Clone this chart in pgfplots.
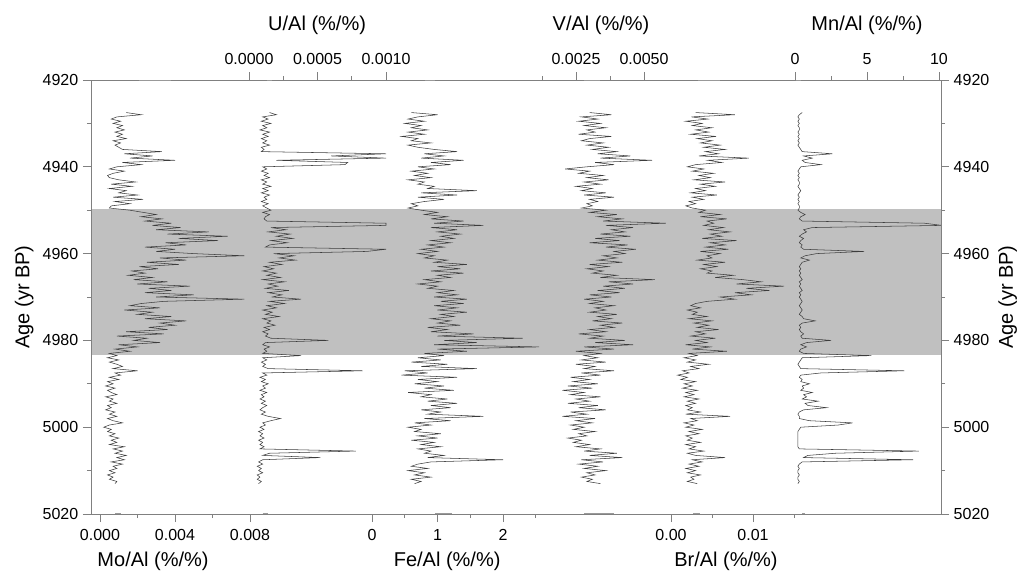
\documentclass[border=0pt]{standalone}
\usepackage{pgfplots}
\pgfplotsset{compat=1.18}
\usepackage{pgfplotstable}
\usepackage{fontspec}
\setmainfont{Liberation Sans}

\definecolor{bandgray}{RGB}{192,192,192}
\definecolor{framegray}{RGB}{128,128,128}
\definecolor{tracegray}{RGB}{60,60,60}

\newcommand\ticksize{\fontsize{12}{14}\selectfont}
\newcommand\labelsize{\fontsize{15}{18}\selectfont}

% element ratios to Al (%/%) against age (yr BP)
\pgfplotstableread{
age    mo      u       fe    v       br      mn
4927.5 1.4e-3  1.5e-4  0.60  3.0e-3  3.0e-3  0.5
4928.0 2.2e-3  2.0e-4  1.00  3.8e-3  7.8e-3  0.3
4928.5 0.9e-3  1.0e-4  0.70  2.7e-3  2.5e-3  0.2
4929.0 0.6e-3  1.4e-4  0.55  3.3e-3  4.5e-3  0.3
4929.5 1.1e-3  0.9e-4  0.80  2.6e-3  1.8e-3  0.2
4930.0 0.7e-3  1.6e-4  0.50  3.4e-3  3.8e-3  0.3
4930.5 1.2e-3  1.0e-4  0.75  2.8e-3  2.6e-3  0.2
4931.0 0.9e-3  1.3e-4  0.60  3.6e-3  5.0e-3  0.3
4931.5 1.3e-3  0.8e-4  0.85  2.9e-3  3.0e-3  0.3
4932.0 0.8e-3  1.5e-4  0.55  3.2e-3  4.6e-3  0.2
4932.5 1.2e-3  1.0e-4  0.80  2.6e-3  2.4e-3  0.3
4933.0 0.9e-3  1.4e-4  0.45  3.8e-3  5.5e-3  0.2
4933.5 1.4e-3  0.9e-4  0.70  3.0e-3  3.2e-3  0.3
4934.0 0.7e-3  1.3e-4  0.60  2.7e-3  5.0e-3  0.2
4934.5 1.1e-3  1.0e-4  0.90  3.5e-3  3.6e-3  0.3
4935.0 0.8e-3  1.5e-4  0.55  2.9e-3  6.0e-3  0.2
4935.5 1.0e-3  0.9e-4  0.70  3.7e-3  4.0e-3  0.3
4936.0 1.2e-3  1.1e-4  0.95  3.1e-3  6.6e-3  0.4
4936.5 3.3e-3  0.9e-4  1.30  4.0e-3  4.2e-3  0.5
4937.0 1.3e-3  10.0e-4 0.80  3.3e-3  5.8e-3  2.6
4937.5 2.8e-3  6.0e-4  1.10  4.5e-3  3.4e-3  0.6
4938.0 1.6e-3  10.0e-4 0.75  3.4e-3  9.5e-3  1.2
4938.5 4.0e-3  2.0e-4  1.40  5.3e-3  4.5e-3  0.5
4939.0 1.2e-3  7.2e-4  0.90  3.2e-3  6.2e-3  0.7
4939.5 2.2e-3  7.0e-4  1.20  3.9e-3  3.0e-3  1.8
4940.0 0.9e-3  1.0e-4  0.70  2.9e-3  2.0e-3  0.4
4940.5 0.5e-3  1.3e-4  0.95  2.1e-3  4.0e-3  0.3
4941.0 1.3e-3  0.9e-4  0.60  3.0e-3  2.6e-3  0.2
4941.5 0.7e-3  1.4e-4  0.85  2.6e-3  5.2e-3  0.3
4942.0 0.4e-3  1.1e-4  0.65  3.5e-3  3.4e-3  0.2
4942.5 0.5e-3  1.5e-4  0.90  2.9e-3  4.8e-3  0.3
4943.0 1.0e-3  0.9e-4  0.55  3.7e-3  2.8e-3  0.2
4943.5 1.9e-3  1.3e-4  0.80  2.8e-3  6.6e-3  0.3
4944.0 0.6e-3  1.0e-4  0.70  3.4e-3  3.6e-3  0.3
4944.5 1.7e-3  1.6e-4  0.95  2.5e-3  5.4e-3  0.2
4945.0 0.5e-3  1.0e-4  0.85  3.1e-3  3.0e-3  0.3
4945.5 1.4e-3  1.4e-4  1.60  2.7e-3  4.2e-3  0.4
4946.0 1.0e-3  0.9e-4  0.75  3.6e-3  2.4e-3  0.3
4946.5 2.0e-3  1.5e-4  1.30  2.8e-3  5.6e-3  0.2
4947.0 0.7e-3  1.1e-4  0.70  3.9e-3  2.6e-3  0.3
4947.5 2.3e-3  1.3e-4  1.10  3.0e-3  4.0e-3  0.2
4948.0 0.8e-3  0.9e-4  0.80  3.3e-3  2.2e-3  0.3
4948.5 1.6e-3  1.4e-4  0.60  2.9e-3  3.0e-3  0.2
4949.0 0.6e-3  1.0e-4  0.70  3.1e-3  1.8e-3  0.3
4949.5 0.5e-3  1.3e-4  0.55  2.7e-3  2.6e-3  0.3
4950.0 1.6e-3  1.6e-4  0.75  3.6e-3  4.2e-3  0.2
4950.5 2.3e-3  1.0e-4  1.00  3.0e-3  3.4e-3  0.4
4951.0 3.0e-3  1.5e-4  0.80  4.0e-3  6.0e-3  0.7
4951.5 2.2e-3  1.2e-4  1.15  3.3e-3  3.6e-3  0.4
4952.0 3.3e-3  1.1e-4  0.90  4.2e-3  6.8e-3  0.3
4952.5 2.4e-3  1.3e-4  1.40  3.5e-3  4.4e-3  0.5
4953.0 3.8e-3  10.0e-4 0.95  5.8e-3  5.2e-3  9.0
4953.5 2.8e-3  10.0e-4 1.70  3.6e-3  4.0e-3  10.2
4954.0 4.3e-3  1.6e-4  0.90  4.6e-3  6.4e-3  1.2
4954.5 3.0e-3  2.7e-4  1.30  3.8e-3  4.6e-3  0.6
4955.0 5.8e-3  1.4e-4  1.00  4.3e-3  7.2e-3  0.8
4955.5 3.6e-3  3.0e-4  1.35  3.4e-3  4.8e-3  0.5
4956.0 6.8e-3  2.0e-4  1.05  4.5e-3  6.2e-3  0.3
4956.5 4.2e-3  3.2e-4  1.25  3.2e-3  3.8e-3  0.6
4957.0 6.3e-3  1.6e-4  0.90  4.1e-3  8.0e-3  0.4
4957.5 3.5e-3  2.8e-4  1.20  3.0e-3  4.8e-3  0.3
4958.0 4.6e-3  1.5e-4  0.85  4.4e-3  6.6e-3  0.5
4958.5 2.4e-3  1.2e-4  1.10  3.6e-3  4.2e-3  0.4
4959.0 4.0e-3  10.0e-4 0.75  4.7e-3  7.0e-3  0.6
4959.5 3.0e-3  8.6e-4  1.00  3.9e-3  3.6e-3  4.8
4960.0 5.0e-3  1.8e-4  0.70  4.3e-3  6.0e-3  1.5
4960.5 7.7e-3  3.3e-4  0.95  3.5e-3  4.4e-3  0.7
4961.0 3.2e-3  2.2e-4  0.80  4.0e-3  5.0e-3  0.4
4961.5 4.6e-3  3.4e-4  1.15  3.3e-3  3.2e-3  1.0
4962.0 2.5e-3  1.5e-4  0.95  4.2e-3  6.6e-3  0.5
4962.5 4.2e-3  2.4e-4  1.45  3.0e-3  4.0e-3  0.4
4963.0 2.1e-3  1.1e-4  1.00  3.7e-3  5.6e-3  0.3
4963.5 3.1e-3  1.8e-4  1.35  2.9e-3  3.6e-3  0.4
4964.0 1.7e-3  1.0e-4  0.90  3.5e-3  5.0e-3  0.3
4964.5 2.4e-3  2.0e-4  1.40  3.1e-3  4.4e-3  0.4
4965.0 1.5e-3  1.3e-4  1.00  4.0e-3  7.6e-3  0.3
4965.5 2.8e-3  2.3e-4  1.20  3.4e-3  5.4e-3  0.4
4966.0 1.8e-3  1.0e-4  0.80  5.4e-3  8.8e-3  0.5
4966.5 3.6e-3  2.6e-4  1.05  3.7e-3  11.0e-3 0.3
4967.0 2.0e-3  1.4e-4  0.70  4.6e-3  8.0e-3  0.4
4967.5 4.8e-3  2.1e-4  1.00  3.5e-3  13.8e-3 0.3
4968.0 2.6e-3  1.2e-4  0.85  4.3e-3  9.2e-3  0.4
4968.5 3.8e-3  2.9e-4  1.25  3.3e-3  12.0e-3 0.5
4969.0 2.4e-3  1.4e-4  1.00  4.1e-3  7.8e-3  0.3
4969.5 5.0e-3  2.4e-4  1.30  3.0e-3  9.8e-3  0.4
4970.0 3.0e-3  1.7e-4  0.95  3.8e-3  6.0e-3  0.3
4970.5 7.7e-3  3.8e-4  1.45  2.8e-3  7.8e-3  0.4
4971.0 3.4e-3  1.5e-4  1.05  3.5e-3  4.4e-3  0.5
4971.5 2.2e-3  2.6e-4  1.40  3.0e-3  3.0e-3  0.4
4972.0 1.6e-3  1.3e-4  0.95  3.9e-3  2.4e-3  0.3
4972.5 3.2e-3  2.0e-4  1.30  3.2e-3  3.6e-3  0.4
4973.0 1.3e-3  1.0e-4  1.00  3.6e-3  2.0e-3  0.5
4973.5 2.8e-3  1.7e-4  1.45  3.0e-3  3.2e-3  0.4
4974.0 2.0e-3  1.2e-4  1.05  4.0e-3  2.6e-3  0.3
4974.5 3.8e-3  2.2e-4  1.25  3.3e-3  4.4e-3  0.5
4975.0 2.4e-3  1.0e-4  0.90  3.8e-3  2.2e-3  0.6
4975.5 4.6e-3  1.6e-4  1.20  3.1e-3  5.0e-3  1.4
4976.0 3.2e-3  1.3e-4  1.00  4.2e-3  2.8e-3  0.5
4976.5 4.0e-3  1.9e-4  1.35  3.4e-3  4.6e-3  0.3
4977.0 2.6e-3  1.1e-4  0.85  3.9e-3  3.2e-3  0.4
4977.5 3.6e-3  1.5e-4  1.15  3.0e-3  5.8e-3  0.3
4978.0 1.4e-3  1.0e-4  0.90  3.6e-3  3.0e-3  0.4
4978.5 3.4e-3  1.4e-4  1.55  2.6e-3  4.2e-3  0.6
4979.0 0.9e-3  1.2e-4  1.00  3.5e-3  2.4e-3  0.4
4979.5 2.5e-3  1.6e-4  2.30  3.0e-3  5.4e-3  0.5
4980.0 1.8e-3  5.8e-4  1.10  4.3e-3  3.0e-3  2.5
4980.5 3.2e-3  1.2e-4  1.60  3.2e-3  4.4e-3  0.8
4981.0 1.0e-3  1.0e-4  0.95  4.6e-3  1.8e-3  0.4
4981.5 2.0e-3  1.5e-4  2.55  2.8e-3  4.8e-3  0.8
4982.0 0.8e-3  1.1e-4  1.00  3.9e-3  2.6e-3  0.4
4982.5 1.6e-3  1.3e-4  1.45  2.5e-3  6.8e-3  0.3
4983.0 0.5e-3  1.0e-4  0.80  3.4e-3  2.2e-3  0.6
4983.5 0.9e-3  3.8e-4  1.10  2.8e-3  3.2e-3  5.3
4984.0 0.4e-3  1.0e-4  0.70  3.3e-3  1.6e-3  0.5
4984.5 1.0e-3  1.3e-4  1.05  2.7e-3  3.0e-3  0.4
4985.0 0.5e-3  0.9e-4  0.60  3.6e-3  2.0e-3  0.3
4985.5 0.9e-3  1.2e-4  1.15  2.5e-3  4.6e-3  0.2
4986.0 1.2e-3  1.0e-4  0.75  3.2e-3  2.4e-3  0.3
4986.5 0.7e-3  1.4e-4  1.60  2.8e-3  3.4e-3  0.4
4987.0 2.0e-3  8.3e-4  0.50  3.9e-3  1.4e-3  7.6
4987.5 0.8e-3  1.0e-4  0.85  2.7e-3  2.2e-3  1.8
4988.0 1.1e-3  1.3e-4  0.45  3.4e-3  0.8e-3  0.4
4988.5 0.5e-3  0.8e-4  1.30  2.3e-3  2.0e-3  0.3
4989.0 1.0e-3  1.2e-4  0.70  3.0e-3  1.2e-3  0.5
4989.5 0.4e-3  0.9e-4  1.00  2.4e-3  3.0e-3  0.4
4990.0 0.7e-3  1.4e-4  0.65  3.3e-3  1.6e-3  1.0
4990.5 0.3e-3  1.0e-4  1.10  2.2e-3  2.6e-3  0.5
4991.0 0.8e-3  1.2e-4  0.80  3.1e-3  1.4e-3  0.6
4991.5 0.4e-3  0.8e-4  1.25  2.0e-3  3.2e-3  0.4
4992.0 0.6e-3  1.3e-4  0.55  2.8e-3  1.8e-3  1.2
4992.5 0.9e-3  0.9e-4  0.90  2.3e-3  2.8e-3  0.6
4993.0 0.3e-3  1.1e-4  0.75  3.4e-3  1.6e-3  0.8
4993.5 0.7e-3  0.8e-4  1.15  2.5e-3  3.4e-3  0.5
4994.0 0.5e-3  1.2e-4  0.85  3.0e-3  2.0e-3  1.6
4994.5 0.9e-3  0.9e-4  1.30  2.2e-3  3.0e-3  0.7
4995.0 0.4e-3  1.3e-4  0.90  3.3e-3  1.8e-3  0.9
4995.5 0.6e-3  1.0e-4  1.20  2.6e-3  2.6e-3  2.2
4996.0 0.3e-3  0.8e-4  0.75  3.6e-3  2.0e-3  0.6
4996.5 0.8e-3  1.2e-4  1.05  2.3e-3  3.6e-3  0.3
4997.0 0.5e-3  0.9e-4  0.85  2.9e-3  1.8e-3  0.2
4997.5 0.9e-3  1.4e-4  1.70  2.0e-3  7.2e-3  0.3
4998.0 0.4e-3  2.3e-4  0.80  3.2e-3  2.4e-3  0.3
4998.5 0.7e-3  1.6e-4  1.20  2.5e-3  3.2e-3  1.0
4999.0 1.2e-3  1.0e-4  0.65  3.1e-3  1.6e-3  4.0
4999.5 0.5e-3  1.2e-4  0.90  2.3e-3  2.8e-3  3.0
5000.0 0.2e-3  0.8e-4  0.55  2.8e-3  1.8e-3  0.4
5000.5 0.6e-3  1.1e-4  0.75  2.4e-3  3.8e-3  0.3
5001.0 0.4e-3  0.7e-4  0.65  3.2e-3  2.2e-3  0.2
5001.5 0.8e-3  1.0e-4  1.05  2.6e-3  3.4e-3  0.2
5002.0 0.5e-3  0.8e-4  0.70  2.9e-3  1.8e-3  0.2
5002.5 1.0e-3  1.1e-4  1.00  2.2e-3  2.6e-3  0.2
5003.0 0.6e-3  0.7e-4  0.60  2.7e-3  2.0e-3  0.2
5003.5 0.9e-3  1.0e-4  0.95  2.4e-3  3.6e-3  0.2
5004.0 0.5e-3  0.8e-4  0.75  3.0e-3  1.8e-3  0.2
5004.5 1.3e-3  1.1e-4  1.05  2.5e-3  3.0e-3  0.2
5005.0 0.7e-3  0.8e-4  0.70  3.4e-3  2.2e-3  0.3
5005.5 1.2e-3  7.8e-4  0.90  2.8e-3  4.0e-3  8.6
5006.0 0.8e-3  1.5e-4  0.80  4.0e-3  2.0e-3  2.8
5006.5 1.4e-3  1.0e-4  1.10  3.0e-3  3.0e-3  0.9
5007.0 0.9e-3  5.2e-4  0.85  4.2e-3  6.6e-3  0.6
5007.5 1.3e-3  1.0e-4  2.00  2.7e-3  2.6e-3  8.2
5008.0 0.6e-3  0.7e-4  0.90  3.5e-3  3.8e-3  0.5
5008.5 1.2e-3  1.0e-4  0.70  2.6e-3  2.2e-3  0.3
5009.0 0.7e-3  0.6e-4  0.60  3.3e-3  3.4e-3  0.2
5009.5 0.9e-3  0.9e-4  0.85  2.8e-3  1.8e-3  0.3
5010.0 0.5e-3  0.7e-4  0.55  3.6e-3  3.0e-3  0.2
5010.5 0.8e-3  1.0e-4  0.80  2.9e-3  2.0e-3  0.2
5011.0 0.4e-3  0.6e-4  0.65  3.2e-3  3.6e-3  0.3
5011.5 0.7e-3  0.8e-4  0.90  2.7e-3  2.4e-3  0.2
5012.0 0.5e-3  0.6e-4  0.60  3.1e-3  2.8e-3  0.2
5012.5 0.9e-3  0.9e-4  0.75  2.9e-3  2.0e-3  0.3
5013.0 0.8e-3  0.7e-4  0.65  3.4e-3  3.2e-3  0.2
}\geochem

\pgfplotsset{
  panel/.style={
    width=637.5pt, height=325.5pt, scale only axis,
    at={(0,0)}, anchor=south west,
    ymin=4920, ymax=5020, y dir=reverse,
    tick align=outside,
    major tick length=6pt, minor tick length=3pt,
    tick style={framegray, line width=0.6pt},
  },
  strip/.style={
    panel, hide y axis, scaled x ticks=false,
    x axis line style={draw=none},
    xticklabel shift=2pt,
    xticklabel style={font=\ticksize, text=black},
    xlabel style={font=\labelsize},
  },
  lowstrip/.style={strip, axis x line*=bottom,
    xlabel style={at={(xticklabel cs:#1)}, anchor=north, yshift=-1.5pt}},
  highstrip/.style={strip, axis x line*=top,
    xlabel style={at={(xticklabel cs:#1)}, anchor=south, yshift=7pt}},
  trace/.style={tracegray, line width=0.4pt, no marks},
  edge/.style={black!40, line width=0.6pt, no marks},
}

\begin{document}
\begin{tikzpicture}
% frame, left age scale and shaded interval
\begin{axis}[panel,
  xmin=0, xmax=1, xtick=\empty,
  axis line style={framegray, line width=0.6pt},
  ytick={4920,4940,...,5020}, minor ytick={4930,4950,...,5010},
  ytick pos=left, yticklabel pos=left,
  yticklabel style={font=\ticksize, /pgf/number format/1000 sep={},
    /pgf/number format/assume math mode=true},
  ylabel={Age (yr BP)}, ylabel style={font=\labelsize},
  axis on top]
\addplot[fill=bandgray, draw=none] coordinates
  {(0,4949.8) (1,4949.8) (1,4983.3) (0,4983.3)} -- cycle;
\end{axis}
% right age scale
\begin{axis}[panel,
  xmin=0, xmax=1, hide x axis,
  axis y line*=right, y axis line style={framegray, line width=0.6pt},
  ytick={4920,4940,...,5020}, minor ytick={4930,4950,...,5010},
  yticklabel style={font=\ticksize, /pgf/number format/1000 sep={},
    /pgf/number format/assume math mode=true},
  ylabel={Age (yr BP)}, ylabel style={font=\labelsize}]
\end{axis}
% Mo/Al
\begin{axis}[lowstrip=0.073, xmin=-0.00048, xmax=0.044853,
  xtick={0,0.004,0.008}, xticklabels={0.000,0.004,0.008},
  minor xtick={0.002,0.006}, xlabel={Mo/Al (\%/\%)}]
\addplot[trace] table[x=mo, y=age] {\geochem};
\addplot[edge] coordinates {(0.0021,4920.2) (0.0038,4920.2)};
\addplot[edge] coordinates {(0.0008,5019.8) (0.0011,5019.8)};
\end{axis}
% U/Al
\begin{axis}[highstrip=0.266, xmin=-0.0011533, xmax=0.0050511,
  xtick={0,0.0005,0.001}, xticklabels={0.0000,0.0005,0.0010},
  minor xtick={0.00025,0.00075}, xlabel={U/Al (\%/\%)}]
\addplot[trace] table[x=u, y=age] {\geochem};
\addplot[edge] coordinates {(0.00013,4920.2) (0.00017,4920.2)};
\addplot[edge] coordinates {(0.00010,5019.8) (0.00014,5019.8)};
\end{axis}
% Fe/Al
\begin{axis}[lowstrip=0.419, xmin=-4.290, xmax=8.687,
  xtick={0,1,2}, xticklabels={0,1,2},
  minor xtick={0.5,1.5,2.5}, xlabel={Fe/Al (\%/\%)}]
\addplot[trace] table[x=fe, y=age] {\geochem};
\addplot[edge] coordinates {(0.81,4920.2) (0.96,4920.2)};
\addplot[edge] coordinates {(0.96,5019.8) (1.22,5019.8)};
\end{axis}
% V/Al
\begin{axis}[highstrip=0.6, xmin=-0.015331, xmax=0.015919,
  xtick={0.0025,0.005}, xticklabels={0.0025,0.0050},
  minor xtick={0.00125,0.00375}, xlabel={V/Al (\%/\%)}]
\addplot[trace] table[x=v, y=age] {\geochem};
\addplot[edge] coordinates {(0.0028,4920.2) (0.0034,4920.2)};
\addplot[edge] coordinates {(0.0028,5019.8) (0.0039,5019.8)};
\end{axis}
% Br/Al
\begin{axis}[lowstrip=0.747, xmin=-0.070732, xmax=0.032927,
  xtick={0,0.01}, xticklabels={0.00,0.01},
  minor xtick={0.005,0.015}, xlabel={Br/Al (\%/\%)}]
\addplot[trace] table[x=br, y=age] {\geochem};
\addplot[edge] coordinates {(0.0033,4920.2) (0.0060,4920.2)};
\addplot[edge] coordinates {(0.0027,5019.8) (0.0035,5019.8)};
\end{axis}
% Mn/Al
\begin{axis}[highstrip=0.913, xmin=-48.889, xmax=10.139,
  xtick={0,5,10}, xticklabels={0,5,10},
  minor xtick={2.5,7.5}, xlabel={Mn/Al (\%/\%)}]
\addplot[trace] table[x=mn, y=age] {\geochem};
\addplot[edge] coordinates {(0.1,4920.2) (0.4,4920.2)};
\addplot[edge] coordinates {(0.5,5019.8) (0.7,5019.8)};
\end{axis}
\pgfresetboundingbox
\useasboundingbox (-68.25pt,-45.75pt) rectangle (703.5pt,385.5pt);
\end{tikzpicture}
\end{document}
